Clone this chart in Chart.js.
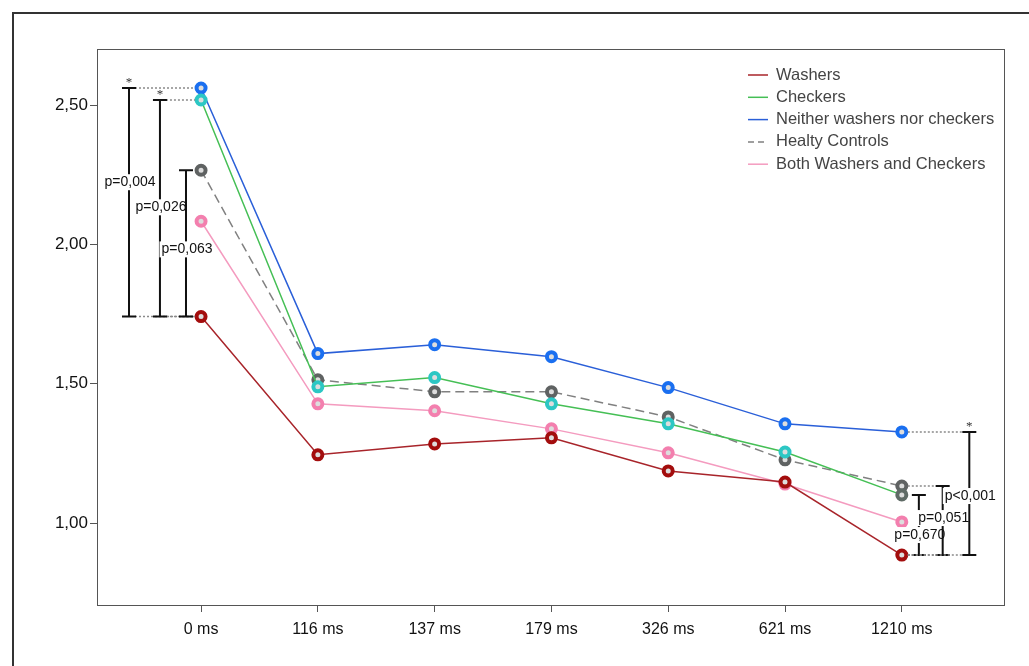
<!DOCTYPE html>
<html>
<head>
<meta charset="utf-8">
<script src="https://cdn.jsdelivr.net/npm/chart.js@4/dist/chart.umd.min.js"></script>
<style>
  html, body { margin: 0; padding: 0; background: #fff; overflow: hidden; }
  #wrap { position: relative; width: 1029px; height: 666px; }
  #frame { position: absolute; left: 12px; top: 12px; width: 1100px; height: 800px; border: 2px solid #333; pointer-events: none; }
</style>
</head>
<body>
<div id="wrap">
  <canvas id="grafica" width="1029" height="666"></canvas>
  <div id="frame"></div>
</div>
<script>
// datos
const labels = ["0 ms", "116 ms", "137 ms", "179 ms", "326 ms", "621 ms", "1210 ms"];
const yTicks = [1.0, 1.5, 2.0, 2.5];

const washers = [1.741, 1.245, 1.284, 1.306, 1.187, 1.147, 0.885];
const checkers = [2.518, 1.489, 1.522, 1.428, 1.356, 1.255, 1.101];
const neither = [2.561, 1.608, 1.640, 1.597, 1.486, 1.356, 1.327];
const healthy = [2.266, 1.514, 1.471, 1.471, 1.381, 1.227, 1.133];
const both = [2.083, 1.428, 1.403, 1.338, 1.252, 1.140, 1.004];

// corchetes de significancia (x en unidades del eje)
const brackets = [
  { x: -0.617, low: washers, high: neither, idx: 0, label: "p=0,004", labelY: 2.223, star: true },
  { x: -0.352, low: washers, high: checkers, idx: 0, label: "p=0,026", labelY: 2.133, star: true },
  { x: -0.129, low: washers, high: healthy, idx: 0, label: "p=0,063", labelY: 1.982, star: false },
  { x: 6.146, low: washers, high: checkers, idx: 6, label: "p=0,670", labelY: 0.957, star: false },
  { x: 6.35, low: washers, high: healthy, idx: 6, label: "p=0,051", labelY: 1.018, star: false, dotTop: true },
  { x: 6.578, low: washers, high: neither, idx: 6, label: "p<0,001", labelY: 1.097, star: true }
];

const toXY = arr => arr.map((v, i) => ({ x: i, y: v }));

function serie(label, data, color, pointColor, dash) {
  return {
    label: label,
    data: toXY(data),
    borderColor: color,
    borderWidth: 1.5,
    borderDash: dash || [],
    pointRadius: 4.5,
    pointHoverRadius: 4.5,
    pointBorderWidth: 4,
    pointBorderColor: pointColor,
    pointBackgroundColor: "#ddd",
    tension: 0
  };
}

const checkersSet = serie("Checkers", checkers, "#45bf55", "#2cc7c4");
checkersSet.pointBorderColor = checkers.map((_, i) => i === 6 ? "#5f6b66" : "#2cc7c4");

const datasets = [
  serie("Washers", washers, "#a8242a", "#a30d0d"),
  checkersSet,
  serie("Neither washers nor checkers", neither, "#2a5fd8", "#1a6ff0"),
  serie("Healty Controls", healthy, "#808080", "#5f6262", [9, 5]),
  serie("Both Washers and Checkers", both, "#f49bbf", "#f37fae")
];

const extras = {
  id: "extras",
  afterDatasetsDraw(chart) {
    const c = chart.ctx;
    const xs = chart.scales.x, ys = chart.scales.y;
    const a = chart.chartArea;

    // caja del area
    c.save();
    c.strokeStyle = "#555";
    c.lineWidth = 1;
    c.strokeRect(a.left + 0.5, a.top + 0.5, a.right - a.left, a.bottom - a.top);
    c.restore();

    // corchetes
    c.save();
    brackets.forEach(b => {
      const bx = xs.getPixelForValue(b.x);
      const px = xs.getPixelForValue(b.idx);
      const y0 = ys.getPixelForValue(b.low[b.idx]);
      const y1 = ys.getPixelForValue(b.high[b.idx]);
      const left = b.x < b.idx;

      // lineas punteadas
      c.strokeStyle = "#8a8a8a";
      c.lineWidth = 1.5;
      c.setLineDash([2, 2]);
      c.beginPath();
      c.moveTo(left ? bx + 6 : px + 6, y0);
      c.lineTo(left ? px - 6 : bx - 6, y0);
      if (b.star || b.dotTop) {
        c.moveTo(left ? bx + 6 : px + 6, y1);
        c.lineTo(left ? px - 6 : bx - 6, y1);
      }
      c.stroke();
      c.setLineDash([]);

      c.strokeStyle = "#111";
      c.lineWidth = 2;
      c.beginPath();
      c.moveTo(bx, y0); c.lineTo(bx, y1);
      c.moveTo(bx - 7, y0); c.lineTo(bx + 7, y0);
      c.moveTo(bx - 7, y1); c.lineTo(bx + 7, y1);
      c.stroke();

      c.font = "14px 'Liberation Sans', Arial, sans-serif";
      c.textAlign = "center";
      c.textBaseline = "middle";
      const ly = ys.getPixelForValue(b.labelY);
      const w = c.measureText(b.label).width;
      c.fillStyle = "#fff";
      c.fillRect(bx - w / 2 - 1, ly - 8, w + 2, 16);
      c.fillStyle = "#111";
      c.fillText(b.label, bx + 1, ly);

      if (b.star) {
        c.font = "13px 'Liberation Serif', serif";
        c.fillStyle = "#333";
        c.fillText("*", bx, y1 - 5);
      }
    });
    c.restore();

    // leyenda
    c.save();
    c.font = "16.5px 'Liberation Sans', Arial, sans-serif";
    c.textAlign = "left";
    c.textBaseline = "middle";
    chart.data.datasets.forEach((ds, i) => {
      const y = 75 + i * 22.3;
      c.strokeStyle = ds.borderColor;
      c.lineWidth = 1.5;
      c.setLineDash(ds.borderDash.length ? [6, 4] : []);
      c.beginPath();
      c.moveTo(748, y); c.lineTo(768, y);
      c.stroke();
      c.setLineDash([]);
      c.fillStyle = "#444";
      c.fillText(ds.label, 776, y);
    });
    c.restore();
  }
};

const ctx = document.getElementById("grafica").getContext("2d");

const grafica = new Chart(ctx, {
  type: "line",
  data: { datasets: datasets },
  options: {
    responsive: false,
    animation: false,
    events: [],
    layout: { padding: { left: 0, top: 49, right: 25, bottom: 0 } },
    plugins: {
      legend: { display: false },
      tooltip: { enabled: false }
    },
    scales: {
      x: {
        type: "linear",
        min: -0.891,
        max: 6.875,
        afterBuildTicks: s => { s.ticks = labels.map((_, i) => ({ value: i })); },
        afterFit: s => { s.height = 61; },
        grid: { drawOnChartArea: false, tickLength: 7, color: "#555", tickColor: "#555" },
        border: { color: "#555", width: 1 },
        ticks: {
          color: "#111",
          padding: 8,
          font: { family: "'Liberation Sans', Arial, sans-serif", size: 16 },
          callback: v => labels[v]
        }
      },
      y: {
        min: 0.706,
        max: 2.701,
        afterBuildTicks: s => { s.ticks = yTicks.map(v => ({ value: v })); },
        afterFit: s => { s.width = 97; },
        grid: { drawOnChartArea: false, tickLength: 7, color: "#555", tickColor: "#555" },
        border: { color: "#555", width: 1 },
        ticks: {
          color: "#111",
          padding: 2,
          font: { family: "'Liberation Sans', Arial, sans-serif", size: 17 },
          callback: v => v.toFixed(2).replace(".", ",")
        }
      }
    }
  },
  plugins: [extras]
});
</script>
</body>
</html>
